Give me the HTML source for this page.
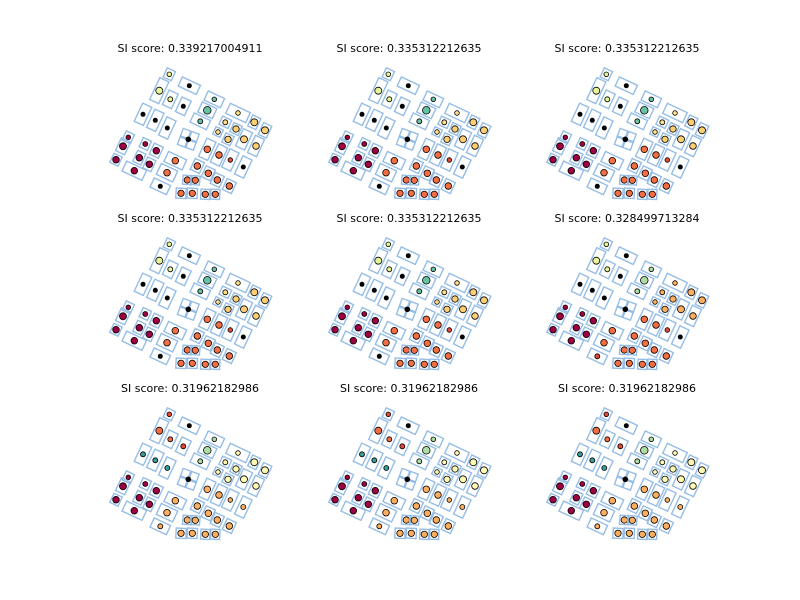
<!DOCTYPE html>
<html><head><meta charset="utf-8"><style>
html,body{margin:0;padding:0;background:#fff}
svg{display:block}
text{font-family:"DejaVu Sans","Liberation Sans",sans-serif;font-size:11px;fill:#000}
</style></head><body>
<svg id="chart" width="800" height="600" viewBox="0 0 800 600"></svg>
<script>
// Panel scores (titles)
const scores = ["0.339217004911","0.335312212635","0.335312212635","0.335312212635","0.335312212635","0.328499713284","0.31962182986","0.31962182986","0.31962182986"];
// element cluster labels per panel (palette keys)
const labelsA = ["ly","ly","k","ly","k","tl","tl","tl","y1","y2","y2","y1","y2","y1","y2","y2","y2","k","k","k","k","cr","cr","cr","cr","cr","cr","cr","cr","or","or","k","or","or","rd","k","or","or","or","or","or","or","or","or","or","or"];
const labelsF = ["ly","ly","k","ly","k","lg","lg","lg","o2","o2","o2","o2","o2","o2","o2","o2","o2","k","k","k","k","cr","cr","cr","cr","cr","cr","cr","cr","or","or","rd","or","or","rd","k","or","or","or","or","or","or","or","or","or","or"];
const labelsC = ["rd","or","k","or","rd","lg","lg","lg","py","py","py","py","py","py","py","py","py","tk","tk","tk","k","cr","cr","cr","cr","cr","cr","cr","cr","lo","lo","lo","lo","lo","lo","lo","lo","lo","lo","lo","lo","lo","lo","lo","lo","lo"];
const panelLabels = [labelsA,labelsA,labelsA,labelsA,labelsA,labelsF,labelsC,labelsC,labelsC];
const palette = {ly:"#e6f598",k:"#000000",tl:"#66c2a5",y1:"#fee08b",y2:"#fdcf72",cr:"#9e0142",or:"#f46d43",rd:"#e04a36",lg:"#abdda4",o2:"#fdae61",py:"#fefab3",tk:"#3a9c97",lo:"#fdae61"};
// layout: cx, cy, w, h, angle, radius (panel-relative geometry)
const geom = [
[169.3,74.3,9,10,25,2.3],[159.3,90.7,10,24,25,3.5],[189.3,85.7,20,10,25,2.5],[170.3,99.3,10,16,25,2.5],[183.3,106.3,10,16,25,2.5],
[214.3,99.3,18,10,25,2.3],[207.3,110.3,16,11,25,3.8],[200.3,121.3,18,10,25,2.5],
[238,113,22,11,25,2.3],[254.3,122.3,9,12,25,3.5],[265,130.3,9,13,25,3.5],[225.3,122.3,10,9,25,2.5],[236,129,9,10,25,3.2],[218,132,8,8,25,2.3],[228,139.3,9,10,25,3.2],[244,139.3,10,19,25,3.5],[256,146,10,19,25,3.3],
[143,114.3,10,20,25,2.5],[155.3,120.3,10,20,25,2.5],[167.3,128,10,20,25,2.5],[188.3,139.3,0,0,0,2.8],
[128.3,137.3,9,10,25,2.3],[123,146.3,10,14,25,3.5],[145.3,144,9,10,25,2.5],[156.3,150.7,10,12,25,3.3],[116,159.7,9,10,25,3.3],[139.3,157.7,9,12,25,3.3],[149.3,164.3,9,12,25,3.3],[134.3,170.7,22,11,25,3.3],
[175.3,160.7,20,11,25,3.3],[167,172.7,18,12,25,3.3],[160.3,186.3,18,10,25,2.5],
[207.3,149.3,10,20,25,3.3],[219,155,10,20,25,3.3],[230.3,160,10,20,25,2.3],[243.3,167,10,20,25,2.5],
[197.3,166,10,12,25,3.3],[208.3,173.3,10,12,25,3.3],[217.3,180,10,12,25,3.3],[229.3,186,10,12,25,3.3],
[187.3,180,9,9,5,3.2],[195.3,180.3,9,9,5,3.2],
[181,193.3,10,10,3,3.2],[192.3,193.3,10,10,3,3.2],[205.3,194.3,9,10,3,3.2],[215.3,194.3,9,10,3,3.2]
];
const panelDX = [0,219,437,0,219,437,0,219,437];
const panelDY = [0,0,0,170,170,170,340,340,340];
const NS="http://www.w3.org/2000/svg";
const svg=document.getElementById('chart');
function mk(t,a){const e=document.createElementNS(NS,t);for(const k in a)e.setAttribute(k,a[k]);return e;}
scores.forEach((s,p)=>{
  const g=mk('g',{transform:`translate(${panelDX[p]},${panelDY[p]})`});
  
  
  const t=mk('text',{x:190,y:52,'text-anchor':'middle'});
  t.textContent='SI score: '+s;
  
  
  g.appendChild(t);
  geom.forEach((d,i)=>{
    const [cx,cy,w,h,a,r]=d;
    if(w===0){
      [[-4,-4],[4,-4],[-4,4],[4,4]].forEach(o=>{
        const q=mk('rect',{x:cx+o[0]-4.5,y:cy+o[1]-4.5,width:9,height:9,fill:'none',stroke:'#96bde6','stroke-width':1.4,transform:`rotate(20 ${cx} ${cy})`});
        
        
        g.appendChild(q);
      });
    } else {
      const q=mk('rect',{x:cx-w/2,y:cy-h/2,width:w,height:h,fill:'none',stroke:'#96bde6','stroke-width':1.4,transform:`rotate(${a} ${cx} ${cy})`});
      
      
      g.appendChild(q);
    }
    const lab=panelLabels[p][i];
    const c=mk('circle',{cx:cx,cy:cy,r:r,fill:palette[lab],stroke:'#000','stroke-width':lab==='k'?0:0.8});
    
    
    g.appendChild(c);
  });
  svg.appendChild(g);
});
</script>
</body></html>
